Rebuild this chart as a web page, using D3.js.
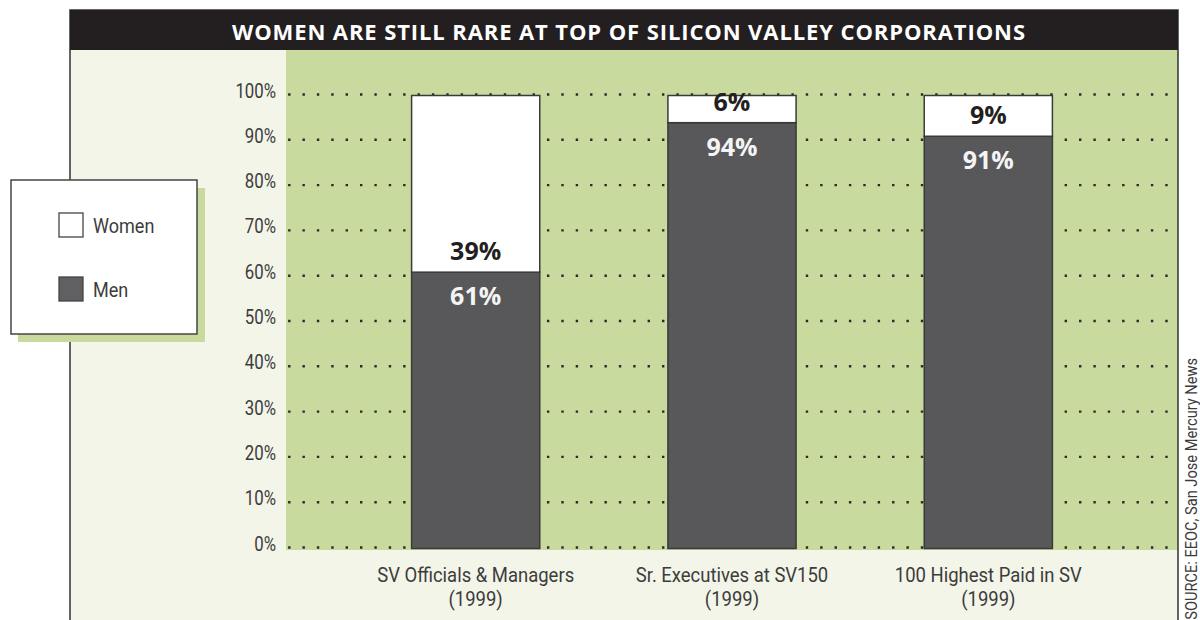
<!DOCTYPE html>
<html>
<head>
<meta charset="utf-8">
<script src="https://cdn.jsdelivr.net/npm/d3@7"></script>
<style>
  html, body { margin: 0; padding: 0; background: #ffffff; }
  svg { display: block; }
  .narrow { font-family: Roboto, "Liberation Sans", sans-serif; font-weight: 400; }
  .bold { font-family: "Open Sans", "DejaVu Sans", sans-serif; font-weight: 700; }
</style>
</head>
<body>
<svg width="1200" height="620"></svg>
<script>
// data
const categories = ["SV Officials & Managers", "Sr. Executives at SV150", "100 Highest Paid in SV"];
const years = ["(1999)", "(1999)", "(1999)"];
const menValues = [61, 94, 91];
const womenValues = [39, 6, 9];
const seriesNames = ["Women", "Men"];
const yTicks = [0, 10, 20, 30, 40, 50, 60, 70, 80, 90, 100];
const title = "WOMEN ARE STILL RARE AT TOP OF SILICON VALLEY CORPORATIONS";
const source = "SOURCE: EEOC, San Jose Mercury News";

const svg = d3.select("svg");

const green = "#c9da9f",
    light = "#f3f5e9",
    dark = "#231f20",
    menFill = "#58585a",
    edge = "#3a3a3a",
    ink = "#3c3c3c";

// condensed look: squeeze text horizontally
const at = (px, py, s) => `translate(${px},${py}) scale(${s},1)`;

const frame = { left: 70, right: 1178, top: 10, header: 50 };
const plot = { left: 286, right: 1178, top: 50, bottom: 550 };

svg.append("rect")
    .attr("x", frame.left).attr("y", frame.header)
    .attr("width", frame.right - frame.left).attr("height", 620 - frame.header)
    .attr("fill", light);

svg.append("rect")
    .attr("x", plot.left).attr("y", plot.top)
    .attr("width", plot.right - plot.left).attr("height", plot.bottom - plot.top)
    .attr("fill", green);

// frame border
svg.append("path")
    .attr("d", `M${frame.left},625V${frame.top}H${frame.right}V625`)
    .attr("fill", "none")
    .attr("stroke", "#333")
    .attr("stroke-width", 1.5);

svg.append("rect")
    .attr("x", frame.left).attr("y", frame.top)
    .attr("width", frame.right - frame.left).attr("height", frame.header - frame.top)
    .attr("fill", dark);

svg.append("text")
    .attr("class", "bold")
    .attr("x", 628.5).attr("y", 39.5)
    .attr("text-anchor", "middle")
    .attr("font-size", 22)
    .attr("textLength", 793)
    .attr("lengthAdjust", "spacing")
    .attr("fill", "#ffffff")
    .text(title);

// scales
const x = d3.scaleBand()
    .domain(categories)
    .range([plot.left, plot.right])
    .paddingInner(0.5)
    .paddingOuter(0.49);

const y = d3.scaleLinear()
    .domain([0, 100])
    .range([548.5, 95.5]);

// dotted grid
svg.append("g")
    .selectAll("line")
    .data(yTicks)
    .enter().append("line")
    .attr("x1", 289.3).attr("x2", 1172)
    .attr("y1", d => y(d) - 1).attr("y2", d => y(d) - 1)
    .attr("stroke", "#2a2a2a")
    .attr("stroke-width", 2.4)
    .attr("stroke-linecap", "square")
    .attr("stroke-dasharray", "0 14.38");

// tick labels
svg.append("g")
    .selectAll("text")
    .data(yTicks)
    .enter().append("text")
    .attr("class", "narrow")
    .attr("transform", d => at(276, y(d) + 2, 0.8))
    .attr("text-anchor", "end")
    .attr("font-size", 21)
    .attr("fill", ink)
    .text(d => d + "%");

// stacked bars
const rows = categories.map((c, i) => ({ cat: c, Men: menValues[i], Women: womenValues[i] }));
const stack = d3.stack().keys(["Men", "Women"])(rows);
const fills = { Men: menFill, Women: "#ffffff" };

const layer = svg.append("g")
    .selectAll("g")
    .data(stack)
    .enter().append("g")
    .attr("fill", d => fills[d.key]);

layer.selectAll("rect")
    .data(d => d)
    .enter().append("rect")
    .attr("x", d => x(d.data.cat))
    .attr("width", x.bandwidth())
    .attr("y", d => y(d[1]))
    .attr("height", d => y(d[0]) - y(d[1]))
    .attr("stroke", edge)
    .attr("stroke-width", 1.5);

// value labels
const labels = svg.append("g").attr("class", "bold").attr("font-size", 25).attr("text-anchor", "middle");

labels.selectAll("text.women")
    .data(rows)
    .enter().append("text")
    .attr("class", "women")
    .attr("x", d => x(d.cat) + x.bandwidth() / 2)
    .attr("y", d => y(d.Men) - 12)
    .attr("fill", dark)
    .text(d => d.Women + "%");

labels.selectAll("text.men")
    .data(rows)
    .enter().append("text")
    .attr("class", "men")
    .attr("x", d => x(d.cat) + x.bandwidth() / 2)
    .attr("y", d => y(d.Men) + 33)
    .attr("fill", "#f4f4f4")
    .text(d => d.Men + "%");

// category labels
const cat = svg.append("g")
    .selectAll("text")
    .data(categories)
    .enter().append("text")
    .attr("class", "narrow")
    .attr("transform", d => at(x(d) + x.bandwidth() / 2, 582, 0.88))
    .attr("text-anchor", "middle")
    .attr("font-size", 21)
    .attr("fill", ink);

cat.append("tspan").text(d => d);
cat.append("tspan")
    .attr("x", 0)
    .attr("dy", 24)
    .text((d, i) => years[i]);

// legend
const legend = svg.append("g");
legend.append("rect")
    .attr("x", 18).attr("y", 188).attr("width", 187).attr("height", 154)
    .attr("fill", green);
legend.append("rect")
    .attr("x", 11).attr("y", 180).attr("width", 186).attr("height", 154)
    .attr("fill", "#ffffff")
    .attr("stroke", "#444")
    .attr("stroke-width", 1.5);

const legendFills = { Women: "#ffffff", Men: "#606063" };
const item = legend.selectAll("g")
    .data(seriesNames)
    .enter().append("g")
    .attr("transform", (d, i) => `translate(59,${213 + i * 64})`);

item.append("rect")
    .attr("width", 24).attr("height", 24)
    .attr("fill", d => legendFills[d])
    .attr("stroke", "#444")
    .attr("stroke-width", 1.3);

item.append("text")
    .attr("class", "narrow")
    .attr("transform", at(34, 20, 0.86))
    .attr("font-size", 21)
    .attr("fill", ink)
    .text(d => d);

// source note, running up the right edge
svg.append("text")
    .attr("class", "narrow")
    .attr("transform", "translate(1197,358) rotate(-90) scale(0.86,1)")
    .attr("text-anchor", "end")
    .attr("font-size", 17)
    .attr("fill", ink)
    .text(source);
</script>
</body>
</html>
